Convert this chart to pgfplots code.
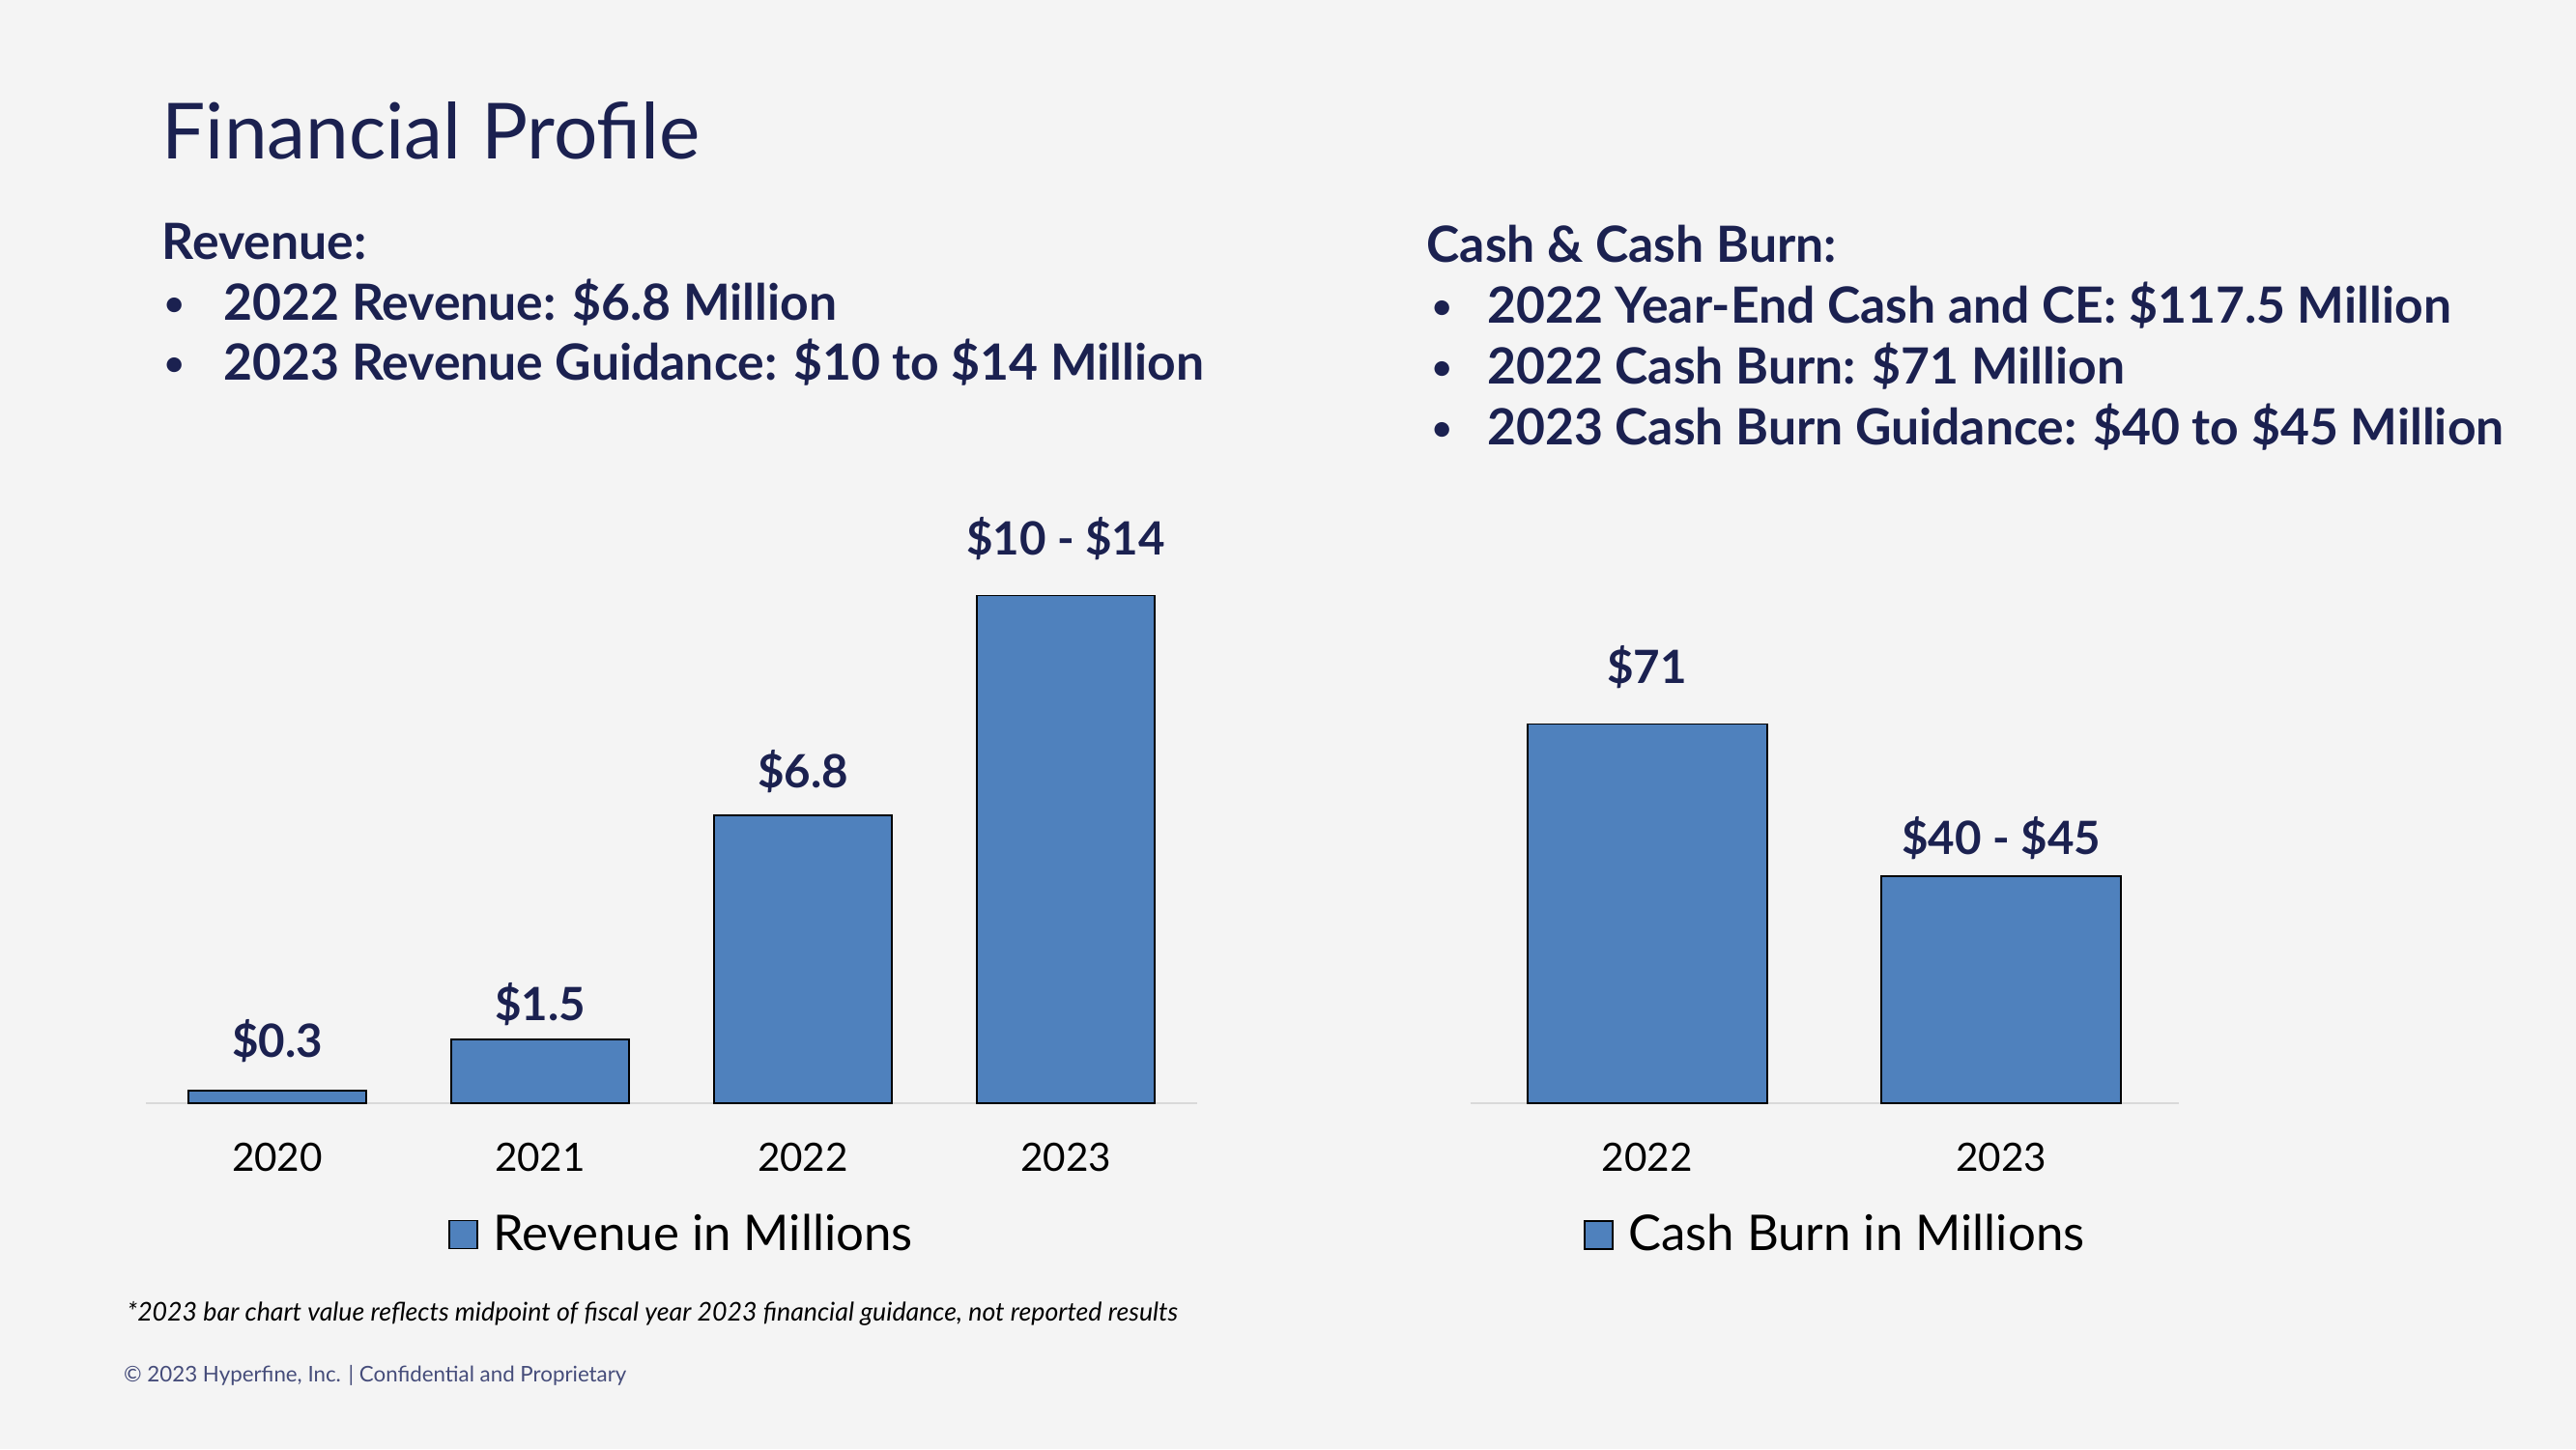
\documentclass[border=0pt]{standalone}
\usepackage{fontspec}
\setmainfont{Lato}
\usepackage{pgfplots}
\usepackage{pgfplotstable}
\pgfplotsset{compat=1.18}
\definecolor{bg}{HTML}{F4F4F4}
\definecolor{navy}{HTML}{1B2150}
\definecolor{barblue}{HTML}{4F81BD}
\definecolor{axisgray}{HTML}{D9D9D9}
\definecolor{footgray}{HTML}{454C7A}

% x, value, label, label lift (cm)
\pgfplotstableread{
x y lab off
0 0.3 {\$0.3} 0.28
1 1.5 {\$1.5} 0.14
2 6.8 {\$6.8} 0.23
3 12 {\$10 - \$14} 0.36
}\revtab
\pgfplotstableread{
x y lab off
0 71 {\$71} 0.36
1 42.5 {\$40 - \$45} 0.16
}\burntab

\pgfplotsset{
  finbar/.style={
    scale only axis, anchor=south west, clip=false,
    ymin=0, axis y line=none, axis x line*=bottom,
    x axis line style={draw=axisgray, line width=0.8pt},
    major tick length=0pt, xtick=data,
    ybar, bar shift=0pt,
    point meta=explicit symbolic,
    nodes near coords={\pgfplotspointmeta},
    every node near coord/.append style={font=\bfseries\fontsize{13.5}{16}\selectfont,
      text=navy, anchor=south, inner sep=0pt},
    xticklabel style={font=\fontsize{11.5}{14}\selectfont, text=black, yshift=-0.285cm},
    legend style={draw=none, fill=none, font=\fontsize{14.5}{17}\selectfont, anchor=center},
    legend image code/.code={\draw[fill=barblue, draw=black, line width=0.5pt]
      (0cm,-0.145cm) rectangle (0.29cm,0.145cm);
      \path (0.37cm,0cm);},
  },
  finplot/.style={fill=barblue, draw=black, line width=0.5pt,
    visualization depends on={\thisrow{off}\as\off},
    every node near coord/.append style={yshift=\off cm}},
}

\newcommand{\bul}{\raisebox{0.05cm}{\fontsize{10}{12}\selectfont •}}

\begin{document}
\begin{tikzpicture}
\fill[bg] (0,0) rectangle (26.66,15);
\useasboundingbox (0,0) rectangle (26.66,15);

% title and headings
\node[anchor=base west, inner sep=0pt, text=navy, font=\fontsize{22.8}{27}\selectfont]
  at (1.67,13.35) {Financial Profile};

\begin{scope}[every node/.style={anchor=base west, inner sep=0pt, text=navy,
    font=\bfseries\fontsize{14.7}{18}\selectfont}]
  \node at (1.67,12.31) {Revenue:};
  \node at (1.70,11.68) {\bul};
  \node at (2.31,11.68) {2022 Revenue: \$6.8 Million};
  \node at (1.70,11.06) {\bul};
  \node at (2.31,11.06) {2023 Revenue Guidance: \$10 to \$14 Million};

  \node at (14.76,12.28) {Cash \& Cash Burn:};
  \node at (14.82,11.65) {\bul};
  \node at (15.385,11.65) {2022 Year-End Cash and CE: \$117.5 Million};
  \node at (14.82,11.02) {\bul};
  \node at (15.385,11.02) {2022 Cash Burn: \$71 Million};
  \node at (14.82,10.39) {\bul};
  \node at (15.385,10.39) {2023 Cash Burn Guidance: \$40 to \$45 Million};
\end{scope}

% revenue chart
\begin{axis}[finbar, at={(1.51cm,3.58cm)}, width=10.88cm, height=6.13cm,
  xmin=-0.5, xmax=3.5, ymax=14, bar width=1.836cm,
  xticklabels={2020,2021,2022,2023},
  legend style={at={(0.512,-0.222)}}]
\addplot[finplot] table[x=x, y=y, meta=lab] {\revtab};
\legend{Revenue in Millions}
\end{axis}

% cash burn chart
\begin{axis}[finbar, at={(15.215cm,3.58cm)}, width=7.33cm, height=6.08cm,
  xmin=-0.5, xmax=1.5, ymax=110, bar width=2.48cm,
  xticklabels={2022,2023},
  legend style={at={(0.519,-0.224)}}]
\addplot[finplot] table[x=x, y=y, meta=lab] {\burntab};
\legend{Cash Burn in Millions}
\end{axis}

% footnotes
\node[anchor=base west, inner sep=0pt, font=\itshape\fontsize{7.6}{9}\selectfont]
  at (1.31,1.33) {*2023 bar chart value reflects midpoint of fiscal year 2023 financial guidance, not reported results};
\node[anchor=base west, inner sep=0pt, text=footgray, font=\fontsize{6.35}{8}\selectfont]
  at (1.275,0.70) {© 2023 Hyperfine, Inc. | Confidential and Proprietary};
\end{tikzpicture}
\end{document}
